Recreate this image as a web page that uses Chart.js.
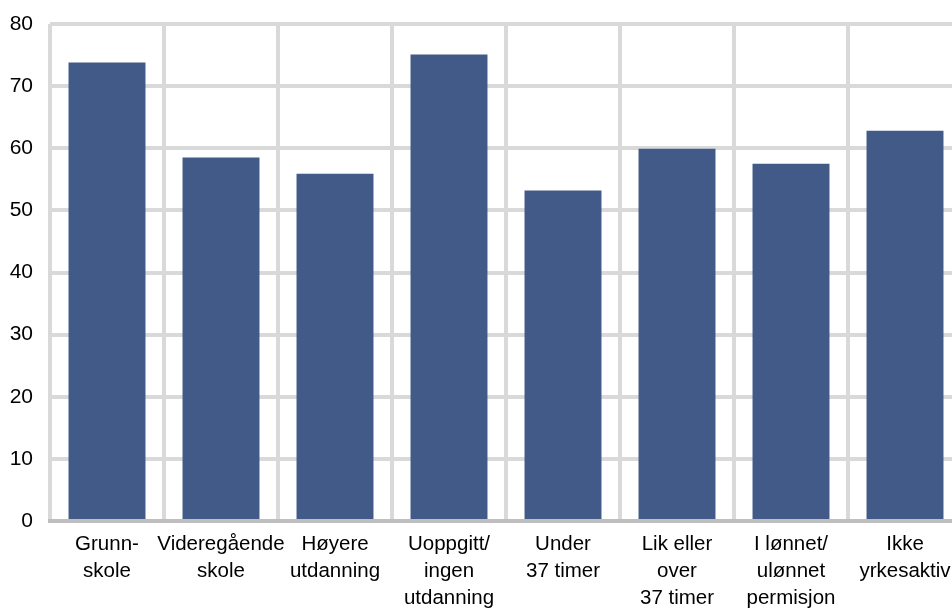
<!DOCTYPE html>
<html>
<head>
<meta charset="utf-8">
<script src="https://cdn.jsdelivr.net/npm/chart.js@4/dist/chart.umd.min.js"></script>
<style>
  html, body { margin: 0; padding: 0; background: #ffffff; overflow: hidden; }
  #wrap { width: 964px; height: 610px; }
</style>
</head>
<body>
<div id="wrap"><canvas id="chart" width="964" height="610"></canvas></div>
<script>
// Kategorier (flerlinjede etiketter) og verdier
const categories = [
  ['Grunn-', 'skole'],
  ['Videregående', 'skole'],
  ['Høyere', 'utdanning'],
  ['Uoppgitt/', 'ingen', 'utdanning'],
  ['Under', '37 timer'],
  ['Lik eller', 'over', '37 timer'],
  ['I lønnet/', 'ulønnet', 'permisjon'],
  ['Ikke', 'yrkesaktiv']
];
const values = [73.8, 58.5, 55.9, 75.1, 53.2, 59.9, 57.5, 62.8];
const yTicks = [0, 10, 20, 30, 40, 50, 60, 70, 80];

const gridColor = '#d9d9d9';
const barColor = '#425a87';

new Chart(document.getElementById('chart').getContext('2d'), {
  type: 'bar',
  data: {
    labels: categories,
    datasets: [{
      data: values,
      backgroundColor: barColor,
      borderWidth: 0,
      barPercentage: 0.675,
      categoryPercentage: 1
    }]
  },
  options: {
    responsive: false,
    animation: false,
    layout: { padding: { top: 24, right: 2, left: 0, bottom: 0 } },
    plugins: {
      legend: { display: false },
      tooltip: { enabled: false }
    },
    scales: {
      x: {
        grid: { color: gridColor, lineWidth: 4, drawTicks: false, offset: true },
        border: { color: '#bfbfbf', width: 4 },
        ticks: {
          color: '#000000',
          font: { family: 'Liberation Sans, Arial, sans-serif', size: 20.5, lineHeight: 1.31 },
          padding: 10,
          maxRotation: 0,
          autoSkip: false
        },
        afterFit: function(scale) {
          scale.height = 89;
          scale.paddingLeft = 0;
          scale.paddingRight = 0;
        }
      },
      y: {
        min: 0,
        max: 80,
        afterBuildTicks: function(scale) {
          scale.ticks = yTicks.map(function(v) { return { value: v }; });
        },
        grid: { color: gridColor, lineWidth: 4, drawTicks: false },
        border: { display: false },
        ticks: {
          color: '#000000',
          font: { family: 'Liberation Sans, Arial, sans-serif', size: 21 },
          padding: 17
        },
        afterFit: function(scale) {
          scale.width = 50;
          scale.paddingTop = 0;
          scale.paddingBottom = 0;
        }
      }
    }
  }
});
</script>
</body>
</html>
